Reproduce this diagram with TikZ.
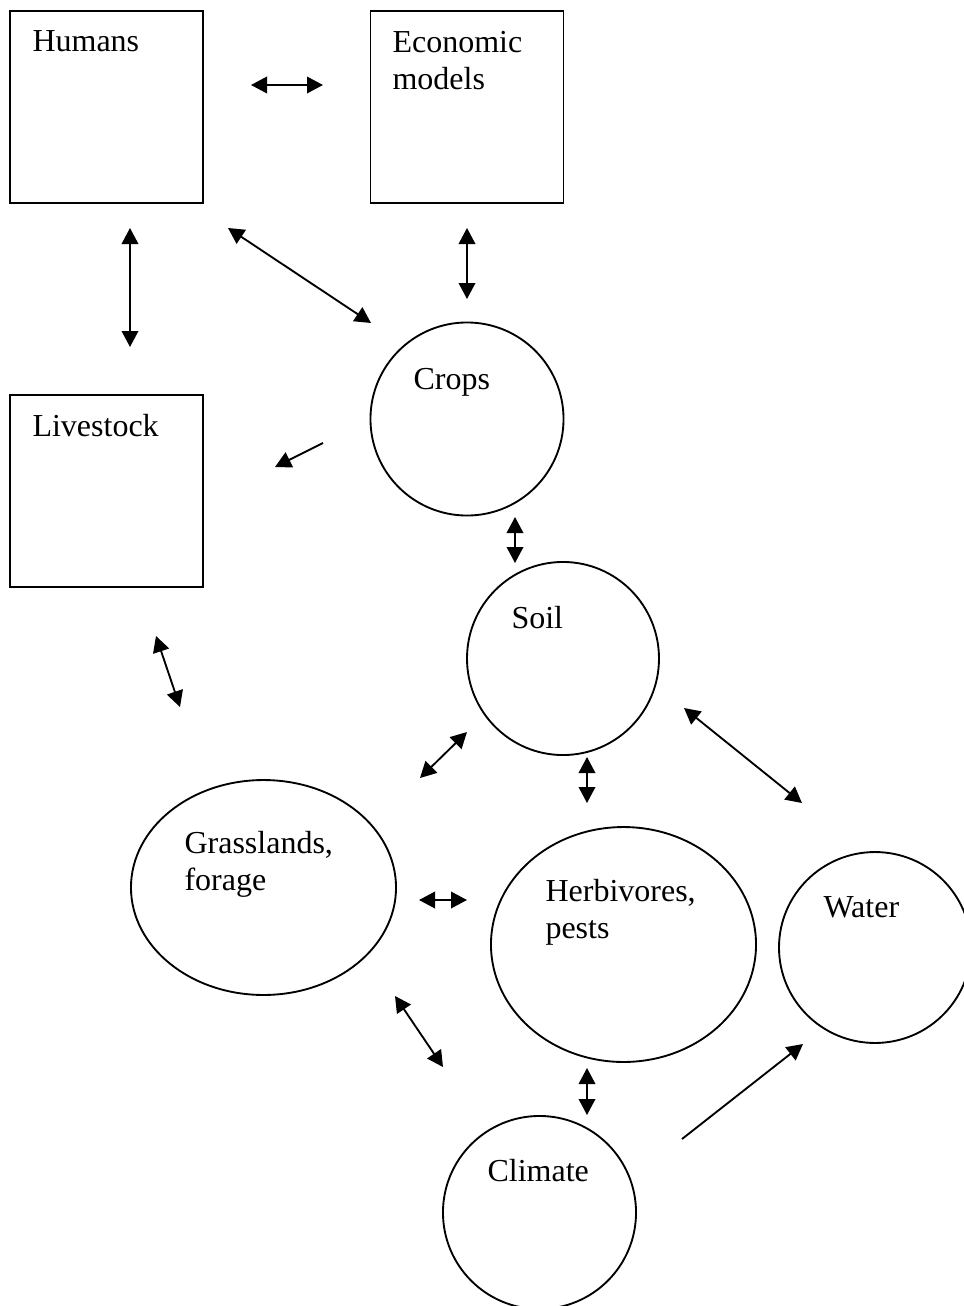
\documentclass[tikz,border=0pt]{standalone}
\usepackage{fontspec}
\setmainfont{Liberation Serif}
\usepackage{tikz}
\usetikzlibrary{arrows.meta}
\usetikzlibrary{shapes.geometric}

\begin{document}
\begin{tikzpicture}[x=0.375pt,y=-0.375pt,
    box/.style={draw,line width=0.7pt,rectangle,minimum width=72.4pt,minimum height=72pt,inner sep=0pt},
    blob/.style={draw,line width=0.7pt,ellipse,inner sep=0pt},
    lbl/.style={anchor=base west,inner sep=0pt,align=left,font=\fontsize{12}{13.8}\selectfont},
    link/.style={line width=0.7pt,{Triangle[length=6pt,width=6.2pt]}-{Triangle[length=6pt,width=6.2pt]}},
    oneway/.style={line width=0.7pt,-{Triangle[length=6pt,width=6.2pt]}}]
    \useasboundingbox (0,0) rectangle (963,1306);
    % boxes and circles
    \node[box] (humans) at (106.5,107) {};
    \node[box] (econ) at (467,107) {};
    \node[box] (livestock) at (106.5,491) {};
    \node[blob,minimum width=72.4pt,minimum height=72.4pt] (crops) at (467,419) {};
    \node[blob,minimum width=72pt,minimum height=72.4pt] (soil) at (563,658.5) {};
    \node[blob,minimum width=99.4pt,minimum height=80.6pt] (grass) at (263.5,887.5) {};
    \node[blob,minimum width=99.4pt,minimum height=88.1pt] (herb) at (623.5,944.5) {};
    \node[blob,minimum width=72pt,minimum height=71.6pt] (water) at (875,947.5) {};
    \node[blob,minimum width=72.4pt,minimum height=72.4pt] (climate) at (539.5,1212.5) {};
    % texts (two-line texts sit on their last line)
    \node[lbl] (humans-t) at (32,52) {Humans};
    \node[lbl] (econ-t) at (392,89) {Economic\\models};
    \node[lbl] (livestock-t) at (32,436) {Livestock};
    \node[lbl] (crops-t) at (413,389) {Crops};
    \node[lbl] (soil-t) at (511,628) {Soil};
    \node[lbl] (grass-t) at (184,890) {Grasslands,\\forage};
    \node[lbl] (herb-t) at (545,938) {Herbivores,\\pests};
    \node[lbl] (water-t) at (823,917) {Water};
    \node[lbl] (climate-t) at (487,1181) {Climate};
    % arrow ends
    \coordinate (huec-a) at (251,85);   \coordinate (huec-b) at (323,85);
    \coordinate (huli-a) at (130,228);  \coordinate (huli-b) at (130,347);
    \coordinate (hucr-a) at (228,228);  \coordinate (hucr-b) at (371,323);
    \coordinate (eccr-a) at (467,228);  \coordinate (eccr-b) at (467,299);
    \coordinate (crli-a) at (323,443);  \coordinate (crli-b) at (275,467);
    \coordinate (crso-a) at (515,517);  \coordinate (crso-b) at (515,563);
    \coordinate (ligr-a) at (156,636);  \coordinate (ligr-b) at (180,707);
    \coordinate (sogr-a) at (467,732);  \coordinate (sogr-b) at (420,778);
    \coordinate (sohe-a) at (587,757);  \coordinate (sohe-b) at (587,803);
    \coordinate (sowa-a) at (684,708);  \coordinate (sowa-b) at (802,803);
    \coordinate (grhe-a) at (419,900);  \coordinate (grhe-b) at (467,900);
    \coordinate (grcl-a) at (395,996);  \coordinate (grcl-b) at (443,1067);
    \coordinate (hecl-a) at (587,1068); \coordinate (hecl-b) at (587,1115);
    \coordinate (clwa-a) at (682,1139); \coordinate (clwa-b) at (803,1044);
    % arrows
    \draw[link] (huec-a) -- (huec-b);
    \draw[link] (huli-a) -- (huli-b);
    \draw[link] (hucr-a) -- (hucr-b);
    \draw[link] (eccr-a) -- (eccr-b);
    \draw[oneway] (crli-a) -- (crli-b);
    \draw[link] (crso-a) -- (crso-b);
    \draw[link] (ligr-a) -- (ligr-b);
    \draw[link] (sogr-a) -- (sogr-b);
    \draw[link] (sohe-a) -- (sohe-b);
    \draw[link] (sowa-a) -- (sowa-b);
    \draw[link] (grhe-a) -- (grhe-b);
    \draw[link] (grcl-a) -- (grcl-b);
    \draw[link] (hecl-a) -- (hecl-b);
    \draw[oneway] (clwa-a) -- (clwa-b);
\end{tikzpicture}
\end{document}
